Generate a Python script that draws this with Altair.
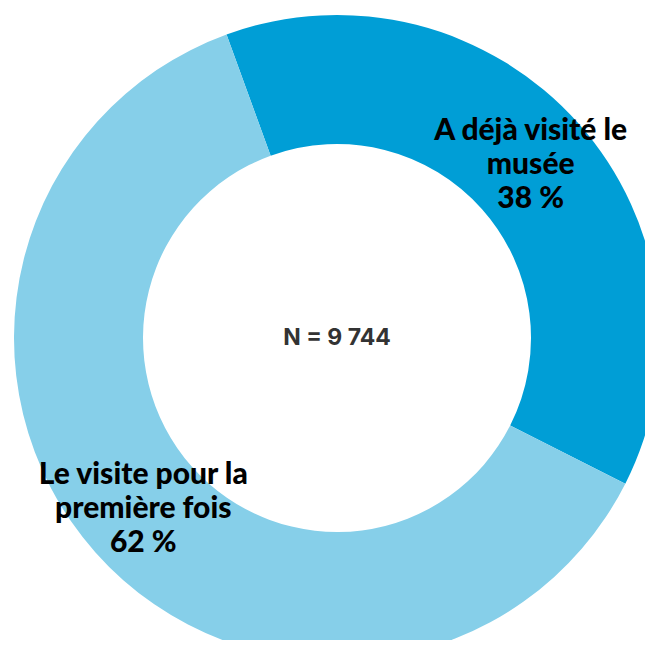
import altair as alt
import pandas as pd
import math

categories = ["A déjà visité le\nmusée", "Le visite pour la\npremière fois"]
shares = [38, 62]
colors = ["#009ED6", "#86CFE9"]
total_n = "N = 9 744"

df = pd.DataFrame({
    "cat": categories,
    "value": shares,
    "order": [0, 1],
    "label": [f"{c}\n{v} %" for c, v in zip(categories, shares)],
})

start = -20 * math.pi / 180
theta_scale = alt.Scale(range=[start, start + 2 * math.pi])
cx, cy = 329, 330

base = alt.Chart(df).encode(
    theta=alt.Theta("value:Q", stack=True, scale=theta_scale),
    order=alt.Order("order:Q"),
    x=alt.value(cx),
    y=alt.value(cy),
)

arcs = base.mark_arc(innerRadius=194, outerRadius=323, stroke=None).encode(
    color=alt.Color("cat:N", scale=alt.Scale(domain=categories, range=colors), legend=None)
)

labels = base.mark_text(
    radius=259, font="Lato", fontWeight=900, fontSize=30, lineHeight=34,
    align="center", baseline="middle", color="#000000", lineBreak="\n", dy=-35
).encode(text="label:N")

center = alt.Chart(pd.DataFrame({"t": [total_n]})).mark_text(
    font="Inter", fontWeight="bold", fontSize=23, color="#333333",
    align="center", baseline="middle"
).encode(text="t:N", x=alt.value(cx), y=alt.value(cy))

chart = alt.layer(arcs, labels, center).properties(
    width=637, height=632, padding=0, autosize="none"
).configure_view(stroke=None)

chart.save("out.html", embed_options={"renderer": "svg", "actions": False})
